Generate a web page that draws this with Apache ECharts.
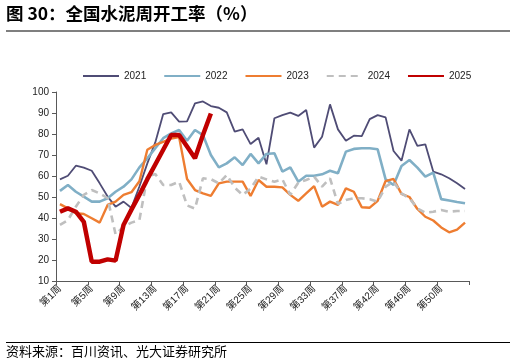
<!DOCTYPE html>
<html><head><meta charset="utf-8">
<script src="https://cdn.jsdelivr.net/npm/echarts@6/dist/echarts.min.js"></script>
<style>html,body{margin:0;padding:0;background:#fff}#c{width:516px;height:363px}</style>
</head><body><div id="c"></div>
<script>
const weeks = ['第1周','第2周','第3周','第4周','第5周','第6周','第7周','第8周','第9周','第10周','第11周','第12周','第13周','第14周','第15周','第16周','第17周','第18周','第19周','第20周','第21周','第22周','第23周','第24周','第25周','第26周','第27周','第28周','第29周','第30周','第31周','第32周','第33周','第34周','第35周','第36周','第37周','第38周','第39周','第41周','第42周','第43周','第44周','第45周','第46周','第47周','第48周','第49周','第50周','第51周','第52周','第53周'];
const y2021 = [58.4,60.1,64.9,64,62.5,56.5,50.2,45.4,47.8,44.8,55,66,76,89.5,90.3,85.9,86,94.6,95.5,93.3,92.5,90.3,81.1,82.2,75.2,78.2,65.6,87.5,89,90.2,88.6,91.4,73.5,78.7,94.1,82.2,76.8,79.2,79,87.1,89,87.9,71.9,67.3,82.2,74.3,75.1,62.1,60.8,58.9,56.5,53.8];
const y2022 = [52.9,55.7,52.5,50.2,47.8,47.8,49.4,52.5,54.9,58.4,64.1,68.4,73.2,78,80.3,81.9,76.8,81.9,79.5,70,64.1,66,68.9,65.2,70.5,66,70.5,70.8,62.1,64.1,57.3,60.1,60.1,60.8,62.5,61.3,71.6,72.9,73.2,73.2,72.7,58.4,55.7,64.8,67.6,64,59.7,61.6,49,48.3,47.6,47];
const y2023 = [46.6,44.6,42.3,41.9,39.9,37.8,46.2,47.8,51,52.3,57.5,72.5,74.8,76.3,77.8,78.5,58.6,53.3,51.7,50.5,56.5,57.3,57.3,57.3,50.5,58.1,54.9,54.9,54.6,51,48.2,51.7,55.2,45.4,47.8,46.2,54.1,52.5,45.1,44.9,48.2,57.6,58.6,51.5,50,44.3,40.6,38.8,35.5,33.2,34.5,37.8];
const y2024 = [36.7,39,45.4,51,53.3,51.7,49.4,32.2,35.9,37.8,39,59.7,61,55.7,55.7,57.3,46,44.5,58.9,58.5,56.5,60.5,54.5,51,54,59.7,58.4,57.3,58.4,51,56.8,58.1,59.7,54.9,58.9,46.7,48.6,49.4,49.4,48.9,47.8,54.9,57.3,51.7,49.4,44.6,42.5,43,43.8,43,43.3,43.3];
const y2025 = [43,44.6,43,38.2,19.2,19.2,20.3,19.7,36.7,44,51,58.5,65.5,72.5,79.5,79.5,74,68.5,79.5,89.8];
const yTicks = [10,100,10];

const chart = echarts.init(document.getElementById('c'), null, {renderer:'canvas'});
const FONT = '"Liberation Sans","Noto Sans CJK SC",sans-serif';
function mk(name, data, color, width, type){
  return {name, type:'line', data, symbol:'none', showSymbol:false, animation:false,
    lineStyle:{color, width, type: type||'solid'}, itemStyle:{color}};
}
chart.setOption({
  animation:false,
  textStyle:{fontFamily:FONT},
  graphic:[
    {type:'text', left:6, top:5, style:{text:'图 30：全国水泥周开工率（%）', font:'bold 17.5px "Noto Sans CJK SC",sans-serif', fill:'#000'}},
    {type:'line', shape:{x1:6,y1:31,x2:510,y2:31}, style:{stroke:'#000', lineWidth:1.2}},
    {type:'line', shape:{x1:6,y1:342.5,x2:510,y2:342.5}, style:{stroke:'#000', lineWidth:1.2}},
    {type:'text', left:6, top:345, style:{text:'资料来源：百川资讯、光大证券研究所', font:'13px "Noto Sans CJK SC",sans-serif', fill:'#000'}}
  ],
  legend:{left:77, top:66, itemWidth:36, itemHeight:12, itemGap:17,
    itemStyle:{opacity:0},
    textStyle:{fontSize:10, color:'#222', fontFamily:FONT},
    data:['2021','2022','2023','2024','2025']},
  grid:{left:56, right:47, top:92, bottom:82, containLabel:false},
  xAxis:{type:'category', data:weeks, boundaryGap:true,
    axisLine:{lineStyle:{color:'#595959', width:1}},
    axisTick:{show:true, interval:3, length:4, lineStyle:{color:'#595959'}},
    axisLabel:{interval:3, rotate:45, fontSize:10, color:'#222', margin:6, fontFamily:FONT,
      formatter:function(v, i){ return i >= 51 ? '' : v; }}},
  yAxis:{type:'value', min:yTicks[0], max:yTicks[1], interval:yTicks[2],
    axisLine:{show:true, lineStyle:{color:'#595959', width:1}},
    axisTick:{show:true, length:4, lineStyle:{color:'#595959'}},
    splitLine:{show:false},
    axisLabel:{fontSize:10, color:'#222', margin:7, fontFamily:FONT}},
  series:[
    mk('2021', y2021, '#4f4c75', 1.8),
    mk('2022', y2022, '#80afc6', 2.6),
    mk('2023', y2023, '#ee7d31', 2.4),
    mk('2024', y2024, '#bfbfbf', 2.6, [7,5]),
    mk('2025', y2025, '#c00000', 4.5)
  ]
});
</script></body></html>
